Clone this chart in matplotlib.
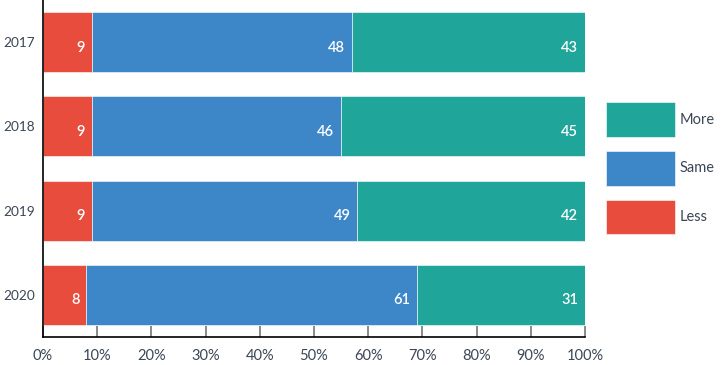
"""Stacked 100% bar chart: Less / Same / More by year."""

import matplotlib

matplotlib.use("Agg")
import matplotlib.pyplot as plt

YEARS = ["2017", "2018", "2019", "2020"]
LESS = [9, 9, 9, 8]
SAME = [48, 46, 49, 61]
MORE = [43, 45, 42, 31]
X_TICKS = [0, 10, 20, 30, 40, 50, 60, 70, 80, 90, 100]

TEXT = "#3b4656"
COLORS = {"Less": "#e84c3d", "Same": "#3d87c9", "More": "#1fa59a"}

plt.rcParams["font.family"] = ["Lato", "DejaVu Sans"]

fig = plt.figure(figsize=(7.24, 3.65), dpi=100)
ax = fig.add_axes([43 / 724, 28 / 365, (585 - 43) / 724, 337 / 365])

positions = list(range(len(YEARS)))
left = [0] * len(YEARS)
bars = {}
for name, values in (("Less", LESS), ("Same", SAME), ("More", MORE)):
    bars[name] = ax.barh(positions, values, left=left, height=0.715,
                         color=COLORS[name], edgecolor="white", linewidth=0.4,
                         label=name)
    for pos, start, value in zip(positions, left, values):
        ax.annotate(str(value), xy=(start + value, pos), xytext=(-5, -4),
                    textcoords="offset points", ha="right", va="center",
                    color="white", fontsize=10.5, fontweight="semibold")
    left = [a + b for a, b in zip(left, values)]

ax.set_ylim(len(YEARS) - 0.5, -0.5)
ax.set_xlim(0, 100)
ax.set_yticks(positions, YEARS)
ax.set_xticks(X_TICKS, [f"{t}%" for t in X_TICKS])
ax.tick_params(axis="y", length=0, pad=6, labelsize=9.8, labelcolor=TEXT)
ax.tick_params(axis="x", direction="in", length=8, width=1.2, color="#777777",
               pad=9, labelsize=10.5, labelcolor=TEXT)
for side in ("top", "right"):
    ax.spines[side].set_visible(False)
for side in ("left", "bottom"):
    ax.spines[side].set_color("black")
    ax.spines[side].set_linewidth(1.2)

handles = [bars["More"], bars["Same"], bars["Less"]]
fig.legend(handles, ["More", "Same", "Less"], loc="upper left",
           bbox_to_anchor=(593 / 724, 1 - 89 / 365), frameon=False,
           handlelength=4.75, handleheight=3.3, labelspacing=0.95,
           handletextpad=0.3, fontsize=10.5, labelcolor=TEXT)

fig.savefig("out.png", dpi=100)
